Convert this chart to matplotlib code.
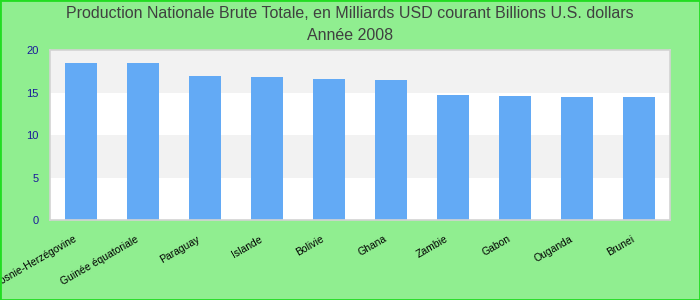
import matplotlib
matplotlib.use("Agg")
import matplotlib.pyplot as plt
from matplotlib.patches import Rectangle
from matplotlib.transforms import ScaledTranslation

categories = ["Bosnie-Herzégovine", "Guinée équatoriale", "Paraguay", "Islande",
              "Bolivie", "Ghana", "Zambie", "Gabon", "Ouganda", "Brunei"]
values = [18.47, 18.47, 16.94, 16.82, 16.59, 16.47, 14.70, 14.59, 14.47, 14.47]
yticks = [0, 5, 10, 15, 20]
title_line1 = "Production Nationale Brute Totale, en Milliards USD courant Billions U.S. dollars"
title_line2 = "Année 2008"

plt.rcParams['font.family'] = ['Liberation Sans', 'DejaVu Sans']

fig = plt.figure(figsize=(7, 3), dpi=100, facecolor='#90EE90')
ax = fig.add_axes([50/700, 80/300, 620/700, 170/300])
ax.set_facecolor('white')

for i in range(len(yticks) - 1):
    ax.axhspan(yticks[i], yticks[i+1], color='#F2F2F2' if i % 2 == 1 else 'white', zorder=0, lw=0)

x = list(range(len(categories)))
ax.bar(x, values, width=0.52, color='#63AAF5', zorder=2)
ax.set_xlim(-0.5, len(categories) - 0.5)
ax.set_ylim(0, 20)
ax.set_yticks(yticks)
ax.set_yticklabels([str(t) for t in yticks], color='#1a1a9a', fontsize=8)
ax.set_xticks(x)
ax.set_xticklabels(categories, rotation=30, ha='right', rotation_mode='anchor', fontsize=7.5, color='black')
ax.tick_params(axis='y', length=0, pad=8)
ax.tick_params(axis='x', length=0, pad=10)
shift = ScaledTranslation(-8/100, 0, fig.dpi_scale_trans)
for lab in ax.get_xticklabels():
    lab.set_transform(lab.get_transform() + shift)
for s in ax.spines.values():
    s.set_color('#D3D3D3')
    s.set_linewidth(1.2)

fig.text(0.5, 1 - 18/300, title_line1, ha='center', va='baseline', fontsize=11.5, color='#404040')
fig.text(0.5, 1 - 40/300, title_line2, ha='center', va='baseline', fontsize=11.5, color='#404040')

fig.patches.append(Rectangle((0, 0), 1, 1, transform=fig.transFigure, fill=False,
                             edgecolor='#22DD22', lw=2, zorder=10))

fig.savefig("out.png", dpi=100, facecolor=fig.get_facecolor())
